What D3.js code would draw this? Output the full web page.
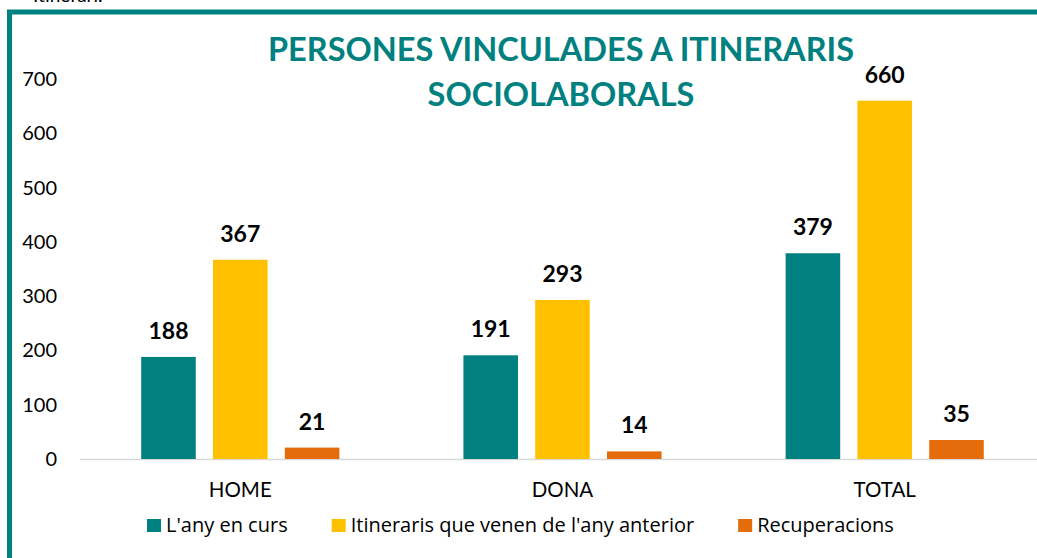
<!DOCTYPE html>
<html lang="ca">
<head>
<meta charset="UTF-8" />
<title>Persones vinculades a itineraris sociolaborals</title>
<script src="https://d3js.org/d3.v7.min.js"></script>
<style>
  html, body { margin: 0; padding: 0; background: #fff; }
  svg { display: block; font-family: Lato, "Open Sans", sans-serif; }
</style>
</head>
<body>
<svg id="chart" width="1037" height="558"></svg>
<script>
  // data
  const categories = ["HOME", "DONA", "TOTAL"];
  const seriesNames = ["L'any en curs", "Itineraris que venen de l'any anterior", "Recuperacions"];
  const anyEnCurs = [188, 191, 379];
  const anyAnterior = [367, 293, 660];
  const recuperacions = [21, 14, 35];
  const yTicks = [0, 100, 200, 300, 400, 500, 600, 700];
  const colors = ["#00807F", "#FFC000", "#E46C0A"];

  const values = [anyEnCurs, anyAnterior, recuperacions];

  const svg = d3.select("#chart");

  // outer frame (cut by the picture edge)
  svg.append("text")
    .attr("x", 33).attr("y", 2)
    .attr("font-size", "19px")
    .attr("fill", "#000")
    .text("Itinerari.");

  svg.append("rect")
    .attr("x", 9.5).attr("y", 12)
    .attr("width", 1100).attr("height", 600)
    .attr("fill", "none")
    .attr("stroke", "#00807F")
    .attr("stroke-width", 5);

  const x = d3.scaleBand()
    .domain(categories)
    .range([80, 1045])
    .paddingInner(0.385)
    .paddingOuter(0.19);

  const xs = d3.scaleBand()
    .domain(d3.range(seriesNames.length))
    .range([0, x.bandwidth()])
    .paddingInner(0.24);

  const y = d3.scaleLinear()
    .domain([0, 700])
    .range([459, 79]);

  // y axis labels
  svg.append("g")
    .selectAll("text")
    .data(yTicks)
    .enter().append("text")
      .attr("x", 57)
      .attr("y", d => y(d))
      .attr("dy", "0.35em")
      .attr("text-anchor", "end")
      .attr("font-size", "20px")
      .attr("fill", "#000")
      .text(d => d);

  // baseline
  svg.append("line")
    .attr("x1", 80).attr("x2", 1037)
    .attr("y1", y(0) + 0.5).attr("y2", y(0) + 0.5)
    .attr("stroke", "#d9d9d9")
    .attr("stroke-width", 1.5);

  // bars
  const groups = svg.append("g")
    .selectAll("g")
    .data(categories)
    .enter().append("g")
      .attr("transform", d => `translate(${x(d)},0)`);

  groups.selectAll("rect")
    .data((c, ci) => values.map((v, si) => ({ si, value: v[ci] })))
    .enter().append("rect")
      .attr("x", d => xs(d.si))
      .attr("y", d => y(d.value))
      .attr("width", xs.bandwidth())
      .attr("height", d => y(0) - y(d.value))
      .attr("fill", d => colors[d.si]);

  groups.selectAll("text.val")
    .data((c, ci) => values.map((v, si) => ({ si, value: v[ci] })))
    .enter().append("text")
      .attr("class", "val")
      .attr("x", d => xs(d.si) + xs.bandwidth() / 2)
      .attr("y", d => y(d.value) - 18)
      .attr("text-anchor", "middle")
      .attr("font-size", "23px")
      .attr("font-weight", "bold")
      .attr("fill", "#000")
      .text(d => d.value);

  // category labels
  svg.append("g")
    .selectAll("text")
    .data(categories)
    .enter().append("text")
      .attr("x", d => x(d) + x.bandwidth() / 2)
      .attr("y", 490)
      .attr("dy", "0.35em")
      .attr("text-anchor", "middle")
      .attr("font-size", "20.5px")
      .attr("fill", "#000")
      .text(d => d);

  // title
  const title = svg.append("text")
    .attr("text-anchor", "middle")
    .attr("font-size", "32.5px")
    .attr("font-weight", "bold")
    .attr("fill", "#00807F");
  title.append("tspan").attr("x", 561).attr("y", 61).text("PERSONES VINCULADES A ITINERARIS");
  title.append("tspan").attr("x", 561).attr("y", 106).text("SOCIOLABORALS");

  // legend: laid out left to right from measured text widths
  const legend = svg.append("g");
  let lx = 147;
  seriesNames.forEach((s, i) => {
    legend.append("rect")
      .attr("x", lx).attr("y", 519)
      .attr("width", 14).attr("height", 13)
      .attr("fill", colors[i]);
    const t = legend.append("text")
      .attr("x", lx + 19).attr("y", 525)
      .attr("dy", "0.35em")
      .attr("font-family", "'Open Sans', sans-serif")
      .attr("font-size", "20px")
      .attr("fill", "#000")
      .text(s);
    lx += 19 + t.node().getComputedTextLength() + 44;
  });
</script>
</body>
</html>
